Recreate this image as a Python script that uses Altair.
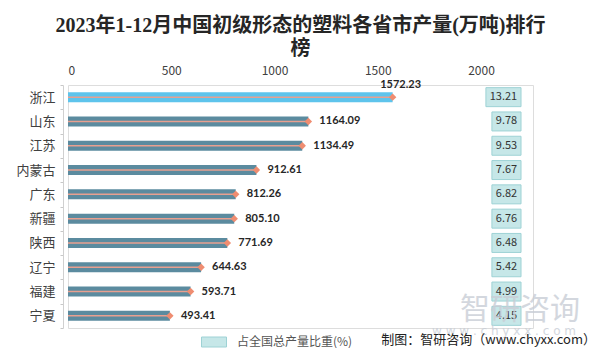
import altair as alt
import pandas as pd

provinces = ["浙江", "山东", "江苏", "内蒙古", "广东", "新疆", "陕西", "辽宁", "福建", "宁夏"]
output = [1572.23, 1164.09, 1134.49, 912.61, 812.26, 805.10, 771.69, 644.63, 593.71, 493.41]
share = [13.21, 9.78, 9.53, 7.67, 6.82, 6.76, 6.48, 5.42, 4.99, 4.15]
x_ticks = [0, 500, 1000, 1500, 2000]
legend_name = "占全国总产量比重(%)"

df = pd.DataFrame({"province": provinces, "output": output, "share": share})
df["share_txt"] = [f"{v:.2f}" for v in share]
df["box_x2"] = 2194
df["box_x"] = [2024 if len(t) > 4 else 2053 for t in df["share_txt"]]
df["box_mid"] = (df["box_x"] + df["box_x2"]) / 2
df["series"] = legend_name

FONT = "Noto Sans CJK SC"
DARK = "#5b8b9f"
LIGHT = "#5ec4ec"

xs = alt.Scale(domain=[0, 2252], nice=False, zero=True)
ys = alt.Scale(domain=provinces, paddingInner=0, paddingOuter=0)

y_enc = alt.Y("province:N", scale=ys, sort=provinces,
              axis=alt.Axis(title=None, labelFont=FONT, labelFontSize=13, labelColor="#404040",
                            labelPadding=5, tickSize=3, tickColor="#c8c8c8", tickBand="extent",
                            domainColor="#d0d0d0", offset=5, grid=False))

base = alt.Chart(df)

bars = base.mark_bar(size=10).encode(
    x=alt.X("output:Q", scale=xs,
            axis=alt.Axis(orient="top", values=x_ticks, format="d", title=None, labelFont=FONT,
                          labelFontSize=12, labelColor="#404040", labelPadding=8, ticks=False,
                          domain=False, grid=False)),
    y=y_enc,
    color=alt.condition(alt.datum.province == "浙江", alt.value(LIGHT), alt.value(DARK)),
)

line = base.mark_rule(color="#e8a090", strokeWidth=1.5).encode(
    x=alt.X("zero:Q", scale=xs), x2="output:Q", y=alt.Y("province:N", scale=ys, sort=provinces)
).transform_calculate(zero="0")

pts = base.mark_point(shape="diamond", filled=True, size=55, color="#ef8d71", opacity=1).encode(
    x=alt.X("output:Q", scale=xs), y=alt.Y("province:N", scale=ys, sort=provinces)
)

lab_first = base.transform_filter(alt.datum.province == "浙江").mark_text(
    font="Lato", fontWeight="bold", fontSize=11, color="#262626", dy=-12, dx=8, align="center"
).encode(x=alt.X("output:Q", scale=xs), y=alt.Y("province:N", scale=ys, sort=provinces),
         text=alt.Text("output:Q", format=".2f"))

lab_rest = base.transform_filter(alt.datum.province != "浙江").mark_text(
    font="Lato", fontWeight="bold", fontSize=11, color="#262626", dx=11, align="left"
).encode(x=alt.X("output:Q", scale=xs), y=alt.Y("province:N", scale=ys, sort=provinces),
         text=alt.Text("output:Q", format=".2f"))

boxes = base.mark_bar(size=19, stroke="#9ed2d5", strokeWidth=1).encode(
    x=alt.X("box_x:Q", scale=xs), x2="box_x2:Q",
    y=alt.Y("province:N", scale=ys, sort=provinces),
    fill=alt.Fill("series:N", scale=alt.Scale(range=["#c6e7e8"]),
                  legend=alt.Legend(title=None, orient="none", legendX=133, legendY=244,
                                    symbolType="M-1,-0.4H1V0.4H-1Z", symbolSize=625,
                                    symbolStrokeColor="#9ed2d5", symbolStrokeWidth=1,
                                    labelFont=FONT, labelFontSize=12, labelColor="#555555",
                                    labelOffset=10, padding=0)),
)

box_txt = base.mark_text(font=FONT, fontSize=11, color="#333333").encode(
    x=alt.X("box_mid:Q", scale=xs), y=alt.Y("province:N", scale=ys, sort=provinces),
    text="share_txt:N")

wm = alt.Chart(pd.DataFrame({"t": ["智研咨询"]})).mark_text(
    font=FONT, fontSize=30, color="#c9ced6", opacity=0.8, align="center"
).encode(x=alt.value(452), y=alt.value(225), text="t:N")

wm2 = alt.Chart(pd.DataFrame({"t": ["w w w . c h y x x . c o m"]})).mark_text(
    font="DejaVu Sans", fontSize=12, color="#c9ced6", opacity=0.8, align="center"
).encode(x=alt.value(436), y=alt.value(246), text="t:N")

footer = alt.Chart(pd.DataFrame({"t": ["制图：智研咨询（www.chyxx.com）"]})).mark_text(
    font=FONT, fontSize=13, color="#222222", align="right"
).encode(x=alt.value(528), y=alt.value(255), text="t:N")

chart = alt.layer(bars, line, pts, lab_first, lab_rest, boxes, box_txt, wm, wm2, footer).properties(
    width=465, height=243,
    autosize=alt.AutoSizeParams(type="none"),
    padding={"left": 60, "top": 77, "right": 63, "bottom": 20},
    title=alt.TitleParams(
        text=["2023年1-12月中国初级形态的塑料各省市产量(万吨)排行", "榜"],
        font="Liberation Serif, Noto Sans CJK SC", fontSize=20, fontWeight="bold",
        color="#262626", anchor="middle", lineHeight=23, offset=5),
).configure_view(stroke=None).configure(background="white")

chart.save("out.html", embed_options={"renderer": "svg", "actions": False})
